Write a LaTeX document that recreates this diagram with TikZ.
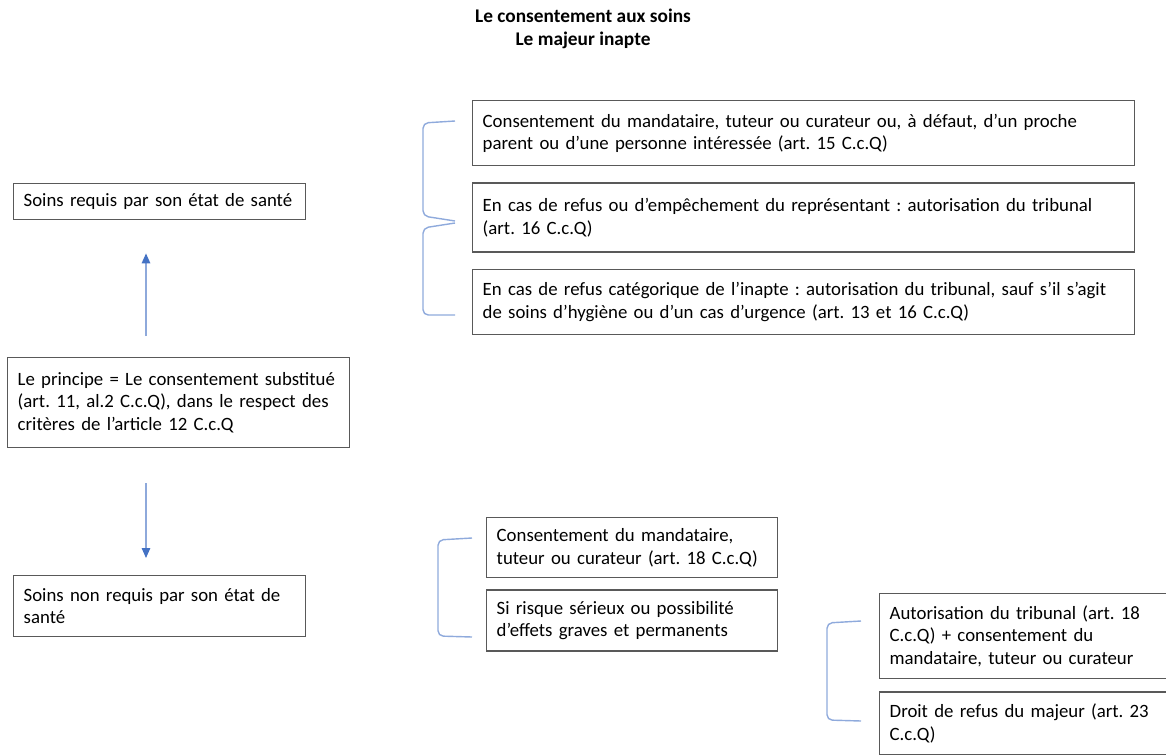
\documentclass[tikz,border=0pt]{standalone}
\usepackage{fontspec}
\setmainfont{Carlito}
\usepackage{xcolor}
\usepackage{tikz}
\usetikzlibrary{arrows.meta,positioning}
\definecolor{boxgray}{HTML}{595959}
\definecolor{arrowblue}{HTML}{4472C4}
\definecolor{lineblue}{HTML}{8EA9DB}
\definecolor{bracketblue}{HTML}{8FAADC}
\frenchspacing
\tikzset{
  soinbox/.style={draw=boxgray,line width=0.8pt,align=left,anchor=north west,
    inner xsep=0.2cm,inner ysep=2pt,font=\fontsize{10.7}{12.8}\selectfont},
  soinarrow/.style={-{Triangle[length=0.2cm,width=0.17cm,color=arrowblue]},draw=lineblue,line width=0.8pt},
  bracket/.style={draw=bracketblue,line width=0.8pt,rounded corners=3pt}
}
\begin{document}
\begin{tikzpicture}[x=0.02cm,y=-0.02cm]
  \useasboundingbox (0,0) rectangle (1166,754);
  \clip (0,0) rectangle (1166,754);
  \node[align=center,font=\fontsize{11}{13}\selectfont\bfseries] (title) at (583,28.5) {Le consentement aux soins\\Le majeur inapte};
  % left column
  \node[soinbox,text width=5.44cm,minimum height=0.72cm] (requis) at (13,183) {Soins requis par son état de santé};
  \node[soinbox,text width=6.44cm,minimum height=1.80cm] (principe) at (7,357) {Le principe = Le consentement substitué\\(art. 11, al.2 C.c.Q), dans le respect des\\critères de l’article 12 C.c.Q};
  \node[soinbox,text width=5.44cm,minimum height=1.22cm] (nonrequis) at (13,575) {Soins non requis par son état de\\santé};
  % soins requis
  \node[soinbox,text width=12.84cm,minimum height=1.30cm] (mandat) at (472,100) {Consentement du mandataire, tuteur ou curateur ou, à défaut, d’un proche\\parent ou d’une personne intéressée (art. 15 C.c.Q)};
  \node[soinbox,text width=12.84cm,minimum height=1.38cm,below=0.32cm of mandat.south west,anchor=north west] (refus) {En cas de refus ou d’empêchement du représentant : autorisation du tribunal\\(art. 16 C.c.Q)};
  \node[soinbox,text width=12.84cm,minimum height=1.30cm,below=0.32cm of refus.south west,anchor=north west] (inapte) {En cas de refus catégorique de l’inapte : autorisation du tribunal, sauf s’il s’agit\\de soins d’hygiène ou d’un cas d’urgence (art. 13 et 16 C.c.Q)};
  % soins non requis
  \node[soinbox,text width=5.42cm,minimum height=1.20cm] (tuteur) at (486,517) {Consentement du mandataire,\\tuteur ou curateur (art. 18 C.c.Q)};
  \node[soinbox,text width=5.42cm,minimum height=1.22cm,below=0.22cm of tuteur.south west,anchor=north west] (risque) {Si risque sérieux ou possibilité\\d’effets graves et permanents};
  \node[soinbox,text width=8.4cm,minimum height=1.70cm] (tribunal) at (879,593) {Autorisation du tribunal (art. 18\\C.c.Q) + consentement du\\mandataire, tuteur ou curateur};
  \node[soinbox,text width=8.4cm,minimum height=1.26cm,below=0.24cm of tribunal.south west,anchor=north west] (droit) {Droit de refus du majeur (art. 23\\C.c.Q)};
  % arrows
  \coordinate (arrx) at (146,0);
  \draw[soinarrow,shorten <=0.42cm,shorten >=0.66cm] (principe.north -| arrx) -- (requis.south -| arrx);
  \draw[soinarrow,shorten <=0.70cm,shorten >=0.34cm] (principe.south -| arrx) -- (nonrequis.north -| arrx);
  % brackets
  \draw[bracket] (455,121) -- (423,123) -- (423,216) -- (455,221);
  \draw[bracket] (455,223) -- (423,228) -- (423,315) -- (455,315);
  \draw[bracket] (472,538) -- (438,540) -- (438,636) -- (472,637);
  \draw[bracket] (861,621) -- (827,623) -- (827,720) -- (861,721);
\end{tikzpicture}
\end{document}
